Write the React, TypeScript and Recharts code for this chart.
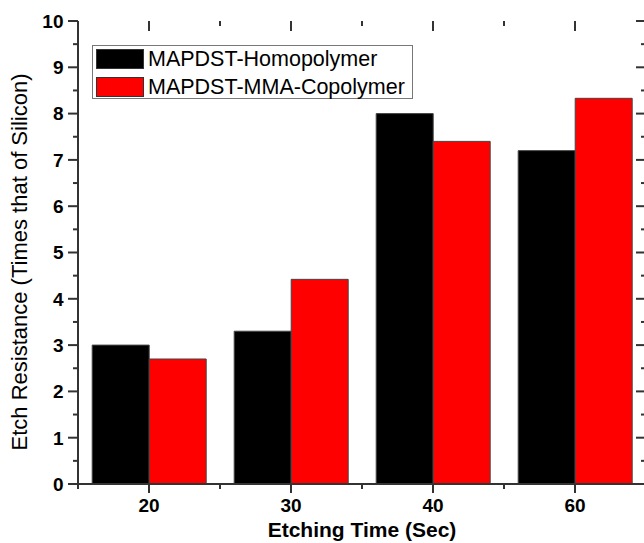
import { Bar, BarChart, Label, Legend, XAxis, YAxis } from "recharts";

const categories = ["20", "30", "40", "60"];
const homopolymer = [3.0, 3.3, 8.0, 7.2];
const copolymer = [2.7, 4.42, 7.4, 8.33];
const yTicks = [0, 0.5, 1, 1.5, 2, 2.5, 3, 3.5, 4, 4.5, 5, 5.5, 6, 6.5, 7, 7.5, 8, 8.5, 9, 9.5, 10];

const seriesNames = ["MAPDST-Homopolymer", "MAPDST-MMA-Copolymer"];
const seriesColors = ["#000000", "#ff0000"];

const data = categories.map((time, i) => ({
  time,
  homo: homopolymer[i],
  copo: copolymer[i],
}));

const W = 660;
const H = 543;
const margin = { top: 21, right: 14, bottom: 19, left: 28 };
const Y_AXIS_W = 50;
const X_AXIS_H = 40;
const LEFT = margin.left + Y_AXIS_W;
const RIGHT = W - margin.right;
const TOP = margin.top;
const BOTTOM = H - margin.bottom - X_AXIS_H;
const BAND = (RIGHT - LEFT) / categories.length;

const font = "Arial, 'Liberation Sans', sans-serif";
const axisColor = "#333";

function YTick({ y, payload }: any) {
  const major = Number.isInteger(payload.value);
  const len = major ? 10 : 5;
  return (
    <g>
      <line x1={LEFT - len} x2={LEFT} y1={y} y2={y} stroke={axisColor} strokeWidth={2} />
      <line x1={RIGHT - len} x2={RIGHT} y1={y} y2={y} stroke={axisColor} strokeWidth={2} />
      {major && (
        <text x={63.5} y={y} dy="0.36em" textAnchor="end" fontFamily={font} fontWeight="bold" fontSize={19} fill="#000">
          {payload.value}
        </text>
      )}
    </g>
  );
}

function XTick({ x, payload }: any) {
  const half = BAND / 2;
  return (
    <g>
      <line x1={x} x2={x} y1={BOTTOM} y2={BOTTOM + 9} stroke={axisColor} strokeWidth={2} />
      <line x1={x - half} x2={x - half} y1={BOTTOM} y2={BOTTOM + 5} stroke={axisColor} strokeWidth={2} />
      <line x1={x + half} x2={x + half} y1={BOTTOM} y2={BOTTOM + 5} stroke={axisColor} strokeWidth={2} />
      <line x1={x} x2={x} y1={TOP} y2={TOP + 10} stroke={axisColor} strokeWidth={2} />
      <line x1={x - half} x2={x - half} y1={TOP} y2={TOP + 5} stroke={axisColor} strokeWidth={2} />
      <line x1={x + half} x2={x + half} y1={TOP} y2={TOP + 5} stroke={axisColor} strokeWidth={2} />
      <text x={x} y={512} textAnchor="middle" fontFamily={font} fontWeight="bold" fontSize={19} fill="#000">
        {payload.value}
      </text>
    </g>
  );
}

function LegendBox() {
  return (
    <div
      style={{
        position: "relative",
        width: 321,
        height: 54,
        boxSizing: "border-box",
        border: "1px solid #777",
        background: "#fff",
        fontFamily: font,
        fontSize: 21.5,
        color: "#000",
      }}
    >
      {seriesNames.map((name, i) => (
        <div key={name}>
          <div
            style={{
              position: "absolute",
              left: 3,
              top: 3 + i * 28,
              width: 48,
              height: 20,
              boxSizing: "border-box",
              border: "1px solid #333",
              background: seriesColors[i],
            }}
          />
          <div style={{ position: "absolute", left: 55, top: 3 + i * 28, lineHeight: "20px", whiteSpace: "nowrap" }}>
            {name}
          </div>
        </div>
      ))}
    </div>
  );
}

export default function App() {
  return (
    <div style={{ position: "absolute", left: 0, top: 0, width: 644, height: 543, overflow: "hidden", background: "#fff" }}>
      <BarChart width={W} height={H} data={data} margin={margin} barCategoryGap="10%" barGap={0}>
        <XAxis
          xAxisId="bottom"
          dataKey="time"
          height={X_AXIS_H}
          axisLine={{ stroke: axisColor, strokeWidth: 2 }}
          tickLine={false}
          tick={<XTick />}
          interval={0}
        >
          <Label
            content={() => (
              <text x={(LEFT + RIGHT) / 2} y={537} textAnchor="middle" fontFamily={font} fontWeight="bold" fontSize={21} fill="#000">
                Etching Time (Sec)
              </text>
            )}
          />
        </XAxis>
        <XAxis
          xAxisId="top"
          dataKey="time"
          orientation="top"
          height={0}
          axisLine={{ stroke: axisColor, strokeWidth: 2 }}
          tickLine={false}
          tick={false}
        />
        <YAxis
          yAxisId="left"
          width={Y_AXIS_W}
          domain={[0, 10]}
          ticks={yTicks}
          interval={0}
          axisLine={{ stroke: axisColor, strokeWidth: 2 }}
          tickLine={false}
          tick={<YTick />}
        >
          <Label
            content={() => (
              <text x={27} y={262} transform="rotate(-90 27 262)" textAnchor="middle" fontFamily={font} fontSize={22} fill="#000">
                Etch Resistance (Times that of Silicon)
              </text>
            )}
          />
        </YAxis>
        <YAxis
          yAxisId="right"
          orientation="right"
          width={0}
          domain={[0, 10]}
          axisLine={{ stroke: axisColor, strokeWidth: 2 }}
          tickLine={false}
          tick={false}
        />
        <Legend
          layout="horizontal"
          verticalAlign="middle"
          align="center"
          wrapperStyle={{ left: 92, top: 45, width: 321, height: 54 }}
          content={() => <LegendBox />}
        />
        <Bar
          xAxisId="bottom"
          yAxisId="left"
          dataKey="homo"
          name={seriesNames[0]}
          fill={seriesColors[0]}
          stroke="#444"
          strokeWidth={1}
          isAnimationActive={false}
        />
        <Bar
          xAxisId="bottom"
          yAxisId="left"
          dataKey="copo"
          name={seriesNames[1]}
          fill={seriesColors[1]}
          stroke="#444"
          strokeWidth={1}
          isAnimationActive={false}
        />
      </BarChart>
    </div>
  );
}
